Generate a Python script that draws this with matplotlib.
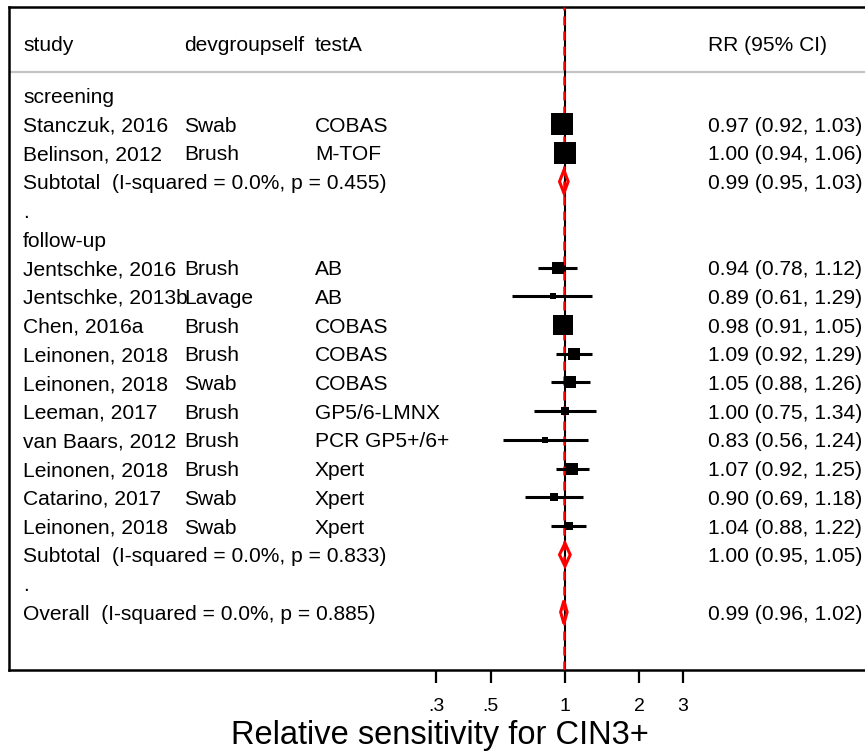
import numpy as np
import matplotlib
matplotlib.use("Agg")
import matplotlib.pyplot as plt
from matplotlib.patches import Polygon
import matplotlib.transforms as mtransforms

plt.rcParams['font.family'] = ['Liberation Sans', 'DejaVu Sans']

# ---- data -------------------------------------------------------------
# row kinds: 'head' = group heading, 'study', 'sub' = pooled estimate, 'blank'
row_kind = ['head', 'study', 'study', 'sub', 'blank',
            'head', 'study', 'study', 'study', 'study', 'study', 'study',
            'study', 'study', 'study', 'study', 'sub', 'blank', 'sub']
study = ['screening', 'Stanczuk, 2016', 'Belinson, 2012',
         'Subtotal  (I-squared = 0.0%, p = 0.455)', '.',
         'follow-up', 'Jentschke, 2016', 'Jentschke, 2013b', 'Chen, 2016a',
         'Leinonen, 2018', 'Leinonen, 2018', 'Leeman, 2017', 'van Baars, 2012',
         'Leinonen, 2018', 'Catarino, 2017', 'Leinonen, 2018',
         'Subtotal  (I-squared = 0.0%, p = 0.833)', '.',
         'Overall  (I-squared = 0.0%, p = 0.885)']
devgroupself = ['', 'Swab', 'Brush', '', '',
                '', 'Brush', 'Lavage', 'Brush', 'Brush', 'Swab', 'Brush',
                'Brush', 'Brush', 'Swab', 'Swab', '', '', '']
testA = ['', 'COBAS', 'M-TOF', '', '',
         '', 'AB', 'AB', 'COBAS', 'COBAS', 'COBAS', 'GP5/6-LMNX',
         'PCR GP5+/6+', 'Xpert', 'Xpert', 'Xpert', '', '', '']
rr = [np.nan, 0.97, 1.00, 0.99, np.nan,
      np.nan, 0.94, 0.89, 0.98, 1.09, 1.05, 1.00, 0.83, 1.07, 0.90, 1.04,
      1.00, np.nan, 0.99]
lo = [np.nan, 0.92, 0.94, 0.95, np.nan,
      np.nan, 0.78, 0.61, 0.91, 0.92, 0.88, 0.75, 0.56, 0.92, 0.69, 0.88,
      0.95, np.nan, 0.96]
hi = [np.nan, 1.03, 1.06, 1.03, np.nan,
      np.nan, 1.12, 1.29, 1.05, 1.29, 1.26, 1.34, 1.24, 1.25, 1.18, 1.22,
      1.05, np.nan, 1.02]
# study weights (%), squares are drawn with area proportional to weight
weight = [0, 23.2, 23.2, 0, 0,
          0, 5.8, 1.2, 17.3, 5.8, 6.9, 3.1, 1.7, 5.8, 3.1, 3.1,
          0, 0, 0]
tick_vals = [0.3, 0.5, 1, 2, 3]
tick_labels = ['.3', '.5', '1', '2', '3']
col_headers = ['study', 'devgroupself', 'testA', 'RR (95% CI)']
x_title = 'Relative sensitivity for CIN3+'

# ---- layout -----------------------------------------------------------
W, H = 865, 751
fig = plt.figure(figsize=(W / 100, H / 100), dpi=100)
ax = fig.add_axes([9.3 / W, (H - 670) / H, (W - 9.3) / W, (670 - 6.7) / H])

px_per_ln = 107.0
ax.set_xscale('log')
ax.set_xlim(np.exp((9.3 - 565) / px_per_ln), np.exp((W - 565) / px_per_ln))
row_px = 28.7
ax.set_ylim((670 - 95.5) / row_px, (6.7 - 95.5) / row_px)

for side in ['left', 'top', 'bottom']:
    ax.spines[side].set_linewidth(1.8)
ax.spines['right'].set_visible(False)
ax.set_yticks([])
ax.set_xticks(tick_vals)
ax.set_xticklabels(tick_labels, fontsize=14)
ax.minorticks_off()
ax.tick_params(axis='x', length=9, width=1.6, pad=11, direction='out')

# reference lines: null effect and overall pooled estimate
ax.axvline(1, color='black', lw=1.5, zorder=2)
ax.axvline(rr[-1], color='#ff0000', lw=1.8, dashes=(3.6, 2.4), zorder=3)

# header separator
ax.axhline((72 - 95.5) / row_px, color='#c4c4c4', lw=1.6, zorder=1)

# text columns
trans = mtransforms.blended_transform_factory(ax.transAxes, ax.transData)
col_x = [(23 - 9.3) / (W - 9.3), (184 - 9.3) / (W - 9.3),
         (315 - 9.3) / (W - 9.3), (708 - 9.3) / (W - 9.3)]
fs = 15.1
base = 0.262  # baseline offset (rows) so cap height centres on the row
y_head = (43 - 95.5) / row_px
for cx, lab in zip(col_x, col_headers):
    ax.text(cx, y_head + base, lab, transform=trans, fontsize=fs, va='baseline')

for i, kind in enumerate(row_kind):
    ax.text(col_x[0], i + base, study[i], transform=trans, fontsize=fs,
            va='baseline')
    if devgroupself[i]:
        ax.text(col_x[1], i + base, devgroupself[i], transform=trans,
                fontsize=fs, va='baseline')
    if testA[i]:
        ax.text(col_x[2], i + base, testA[i], transform=trans, fontsize=fs,
                va='baseline')
    if kind in ('study', 'sub'):
        ax.text(col_x[3], i + base,
                f'{rr[i]:.2f} ({lo[i]:.2f}, {hi[i]:.2f})',
                transform=trans, fontsize=fs, va='baseline')
    if kind == 'study':
        ax.plot([lo[i], hi[i]], [i, i], color='black', lw=2.2,
                solid_capstyle='butt', zorder=4)
        side_px = 4.57 * np.sqrt(weight[i])
        ax.plot([rr[i]], [i], marker='s', color='black',
                markersize=side_px * 0.72, markeredgewidth=0, zorder=5)
    elif kind == 'sub':
        h = 11.5 / row_px
        diamond = Polygon([(lo[i], i), (rr[i], i - h), (hi[i], i),
                           (rr[i], i + h)], closed=True, fill=False,
                          edgecolor='#ff0000', lw=2.2, zorder=6)
        ax.add_patch(diamond)

fig.text(440 / W, 1 - 744 / H, x_title, fontsize=23.5, ha='center',
         va='baseline')

fig.savefig('out.png', dpi=100)
